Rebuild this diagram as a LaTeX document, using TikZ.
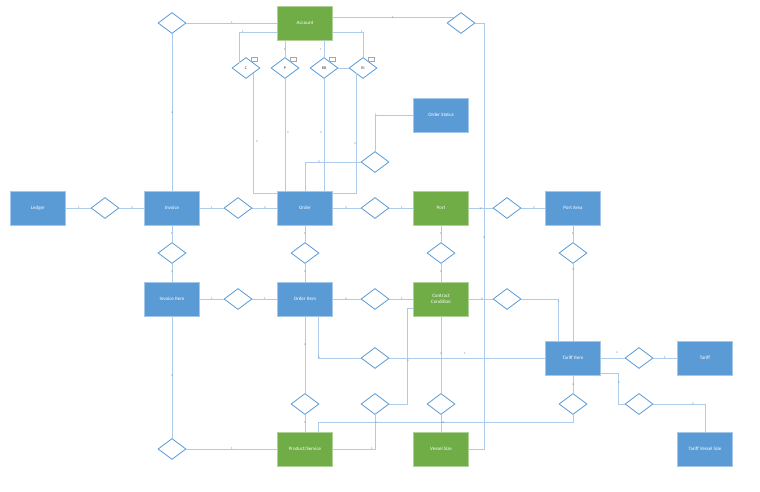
\documentclass[tikz,border=0pt]{standalone}
\usepackage{fontspec}
\setmainfont{Carlito}
\usetikzlibrary{%
    shapes,
    shapes.geometric,
    calc,
    positioning
}
\definecolor{boxblue}{HTML}{5B9BD5}
\definecolor{boxgreen}{HTML}{70AD47}
\definecolor{linkblue}{HTML}{ADCBEA}

\begin{document}
\begin{tikzpicture}[x=1pt, y=-1pt,
    ent/.style={rectangle, fill=boxblue, draw=boxblue!55!white, line width=.8pt, minimum width=55pt, minimum height=34pt, text=white, font=\fontsize{5}{6}\selectfont, align=center, inner sep=1pt},
    entg/.style={ent, fill=boxgreen, draw=boxgreen!55!white},
    rel/.style={diamond, draw=boxblue, line width=.8pt, minimum width=28pt, minimum height=21pt, inner sep=0pt, font=\fontsize{4}{5}\selectfont, text=black!80},
    link/.style={draw=linkblue, line width=.6pt},
    card/.style={font=\fontsize{3}{3}\selectfont, text=linkblue!60!black, inner sep=.4pt},
    note/.style={draw=gray!70, line width=.3pt, minimum width=6pt, minimum height=4pt, inner sep=0pt}]
      \useasboundingbox (0,0) rectangle (760,491);

      % entities
      \node[entg] (account) at (305,23) {Account};
      \node[ent] (ledger) at (38,208) {Ledger};
      \node[ent] (invoice) at (172,208) {Invoice};
      \node[ent] (order) at (305,208) {Order};
      \node[entg] (port) at (441,208) {Port};
      \node[ent] (portarea) at (573,208) {Port Area};
      \node[ent] (status) at (441,115) {Order Status};
      \node[ent] (invitem) at (172,299) {Invoice Item};
      \node[ent] (orditem) at (305,299) {Order Item};
      \node[entg] (contract) at (441,299) {Contract\\Condition};
      \node[ent] (taritem) at (573,358) {Tariff Item};
      \node[ent] (tariff) at (705,358) {Tariff};
      \node[entg] (product) at (305,449) {Product/Service};
      \node[entg] (vessel) at (441,449) {Vessel Size};
      \node[ent] (tarvessel) at (705,449) {Tariff Vessel Size};

      % relationships
      \node[rel] (d_acc_inv) at (172,23) {};
      \node[rel] (d_acc_vs) at (461,23) {};
      \node[rel] (d_c) at (246,68) {C};
      \node[rel] (d_p) at (285,68) {P};
      \node[rel] (d_rb) at (324,68) {RB};
      \node[rel] (d_ri) at (363,68) {RI};
      \node[rel] (d_ord_st) at (375,162) {};
      \node[rel] (d_led_inv) at (105,208) {};
      \node[rel] (d_inv_ord) at (238,208) {};
      \node[rel] (d_ord_port) at (375,208) {};
      \node[rel] (d_port_pa) at (507,208) {};
      \node[rel] (d_inv_ii) at (172,253) {};
      \node[rel] (d_ord_oi) at (305,253) {};
      \node[rel] (d_port_cc) at (441,253) {};
      \node[rel] (d_pa_ti) at (573,253) {};
      \node[rel] (d_ii_oi) at (238,299) {};
      \node[rel] (d_oi_cc) at (375,299) {};
      \node[rel] (d_cc_ti) at (507,299) {};
      \node[rel] (d_oi_ti) at (375,358) {};
      \node[rel] (d_ti_tar) at (639,358) {};
      \node[rel] (d_oi_ps) at (305,404) {};
      \node[rel] (d_cc_ps) at (375,404) {};
      \node[rel] (d_cc_vs) at (441,404) {};
      \node[rel] (d_ti_ps) at (573,404) {};
      \node[rel] (d_ti_tvs) at (639,404) {};
      \node[rel] (d_ii_ps) at (172,449) {};

      \node[note] (n_c) at (254,59) {};
      \node[note] (n_p) at (293,59) {};
      \node[note] (n_rb) at (332,59) {};
      \node[note] (n_ri) at (371,59) {};

      % account
      \draw[link] (d_acc_inv.east) -- (account.west);
      \draw[link] (d_acc_inv.south) -- (invoice.north);
      \draw[link] (account.east |- d_acc_vs.north west) -- (d_acc_vs.north west);
      \coordinate (vs_up) at (484,23);
      \draw[link] (d_acc_vs.east) -- (vs_up) |- (vessel.east);
      \draw[link] ([yshift=-9pt]account.west) -| (d_c.north west);
      \draw[link] (d_p.north |- account.south) -- (d_p.north);
      \draw[link] (d_rb.north |- account.south) -- (d_rb.north);
      \draw[link] ([yshift=-9pt]account.east) -| (d_ri.north);
      \draw[link] (d_rb.east) -- (d_ri.west);
      \draw[link] (d_c.south east) |- ([yshift=-3pt]order.north west);
      \draw[link] (d_p.south) -- (d_p.south |- order.north);
      \draw[link] (d_rb.south) -- (d_rb.south |- order.north);
      \draw[link] (d_ri.south west) |- ([yshift=-3pt]order.north east);
      \draw[link] (order.north) |- (d_ord_st.west);
      \draw[link] (d_ord_st.north) |- (status.west);

      % middle row
      \draw[link] (ledger) -- (d_led_inv);
      \draw[link] (d_led_inv) -- (invoice);
      \draw[link] (invoice) -- (d_inv_ord);
      \draw[link] (d_inv_ord) -- (order);
      \draw[link] (order) -- (d_ord_port);
      \draw[link] (d_ord_port) -- (port);
      \draw[link] (port) -- (d_port_pa);
      \draw[link] (d_port_pa) -- (portarea);

      \draw[link] (invoice) -- (d_inv_ii);
      \draw[link] (d_inv_ii) -- (invitem);
      \draw[link] (order) -- (d_ord_oi);
      \draw[link] (d_ord_oi) -- (orditem);
      \draw[link] (port) -- (d_port_cc);
      \draw[link] (d_port_cc) -- (contract);
      \draw[link] (portarea) -- (d_pa_ti);
      \draw[link] (d_pa_ti) -- (taritem);

      % items
      \draw[link] (invitem) -- (d_ii_oi);
      \draw[link] (d_ii_oi) -- (orditem);
      \draw[link] (orditem) -- (d_oi_cc);
      \draw[link] (d_oi_cc) -- (contract);
      \draw[link] (contract) -- (d_cc_ti);
      \draw[link] (d_cc_ti.east) -| ([xshift=-15pt]taritem.north);
      \draw[link] ([xshift=13pt]orditem.south) |- (d_oi_ti.west);
      \draw[link] (d_oi_ti) -- (taritem);
      \draw[link] (taritem) -- (d_ti_tar);
      \draw[link] (d_ti_tar) -- (tariff);
      \draw[link] ([yshift=-15pt]taritem.east) -| ([xshift=-6pt]d_ti_tvs.west) -- (d_ti_tvs.west);
      \draw[link] (d_ti_tvs.east) -| (tarvessel.north);
      \draw[link] (taritem) -- (d_ti_ps);
      \draw[link] (d_ti_ps.south) |- ([xshift=13pt,yshift=9pt]product.north) -- ([xshift=13pt]product.north);

      % bottom row
      \draw[link] (orditem) -- (d_oi_ps);
      \draw[link] (d_oi_ps) -- (product);
      \draw[link] ([yshift=-9pt]contract.west) -- ++(-6,0) |- (d_cc_ps.east);
      \draw[link] (d_cc_ps.south) |- (product.east);
      \draw[link] (contract) -- (d_cc_vs);
      \draw[link] (d_cc_vs) -- (vessel);
      \draw[link] (invitem) -- (d_ii_ps);
      \draw[link] (d_ii_ps) -- (product);

      % cardinalities
      \node[card] (c_1) at (232,23) {1};
      \node[card] (c_2) at (393,18) {1};
      \node[card] (c_3) at (243,32) {1};
      \node[card] (c_4) at (285,50) {1};
      \node[card] (c_5) at (321,50) {1};
      \node[card] (c_6) at (362,32) {1};
      \node[card] (c_7) at (172,113) {n};
      \node[card] (c_8) at (257,142) {n};
      \node[card] (c_9) at (288,133) {n};
      \node[card] (c_10) at (321,133) {n};
      \node[card] (c_11) at (355,144) {n};
      \node[card] (c_12) at (319,162) {n};
      \node[card] (c_13) at (376,115) {1};
      \node[card] (c_14) at (79,208) {1};
      \node[card] (c_15) at (132,208) {n};
      \node[card] (c_16) at (212,208) {1};
      \node[card] (c_17) at (265,208) {n};
      \node[card] (c_18) at (346,208) {n};
      \node[card] (c_19) at (402,208) {1};
      \node[card] (c_20) at (481,208) {1*};
      \node[card] (c_21) at (534,208) {n};
      \node[card] (c_22) at (484,238) {n};
      \node[card] (c_23) at (172,234) {1};
      \node[card] (c_24) at (172,272) {n};
      \node[card] (c_25) at (305,234) {1};
      \node[card] (c_26) at (305,272) {n};
      \node[card] (c_27) at (441,234) {1};
      \node[card] (c_28) at (441,272) {n};
      \node[card] (c_29) at (573,234) {1};
      \node[card] (c_30) at (573,270) {n};
      \node[card] (c_31) at (212,299) {1};
      \node[card] (c_32) at (265,299) {1};
      \node[card] (c_33) at (346,299) {n};
      \node[card] (c_34) at (402,299) {1};
      \node[card] (c_35) at (482,299) {n};
      \node[card] (c_36) at (559,302) {1};
      \node[card] (c_37) at (305,345) {n};
      \node[card] (c_38) at (319,358) {n};
      \node[card] (c_39) at (408,361) {n};
      \node[card] (c_40) at (441,354) {n};
      \node[card] (c_41) at (465,354) {1};
      \node[card] (c_42) at (617,353) {n};
      \node[card] (c_43) at (665,358) {1};
      \node[card] (c_44) at (619,383) {n};
      \node[card] (c_45) at (693,404) {n};
      \node[card] (c_46) at (573,385) {n};
      \node[card] (c_47) at (305,423) {1};
      \node[card] (c_48) at (376,423) {n};
      \node[card] (c_49) at (443,423) {n1};
      \node[card] (c_50) at (372,449) {1};
      \node[card] (c_51) at (232,449) {1};
      \node[card] (c_52) at (172,376) {n};
\end{tikzpicture}
\end{document}
